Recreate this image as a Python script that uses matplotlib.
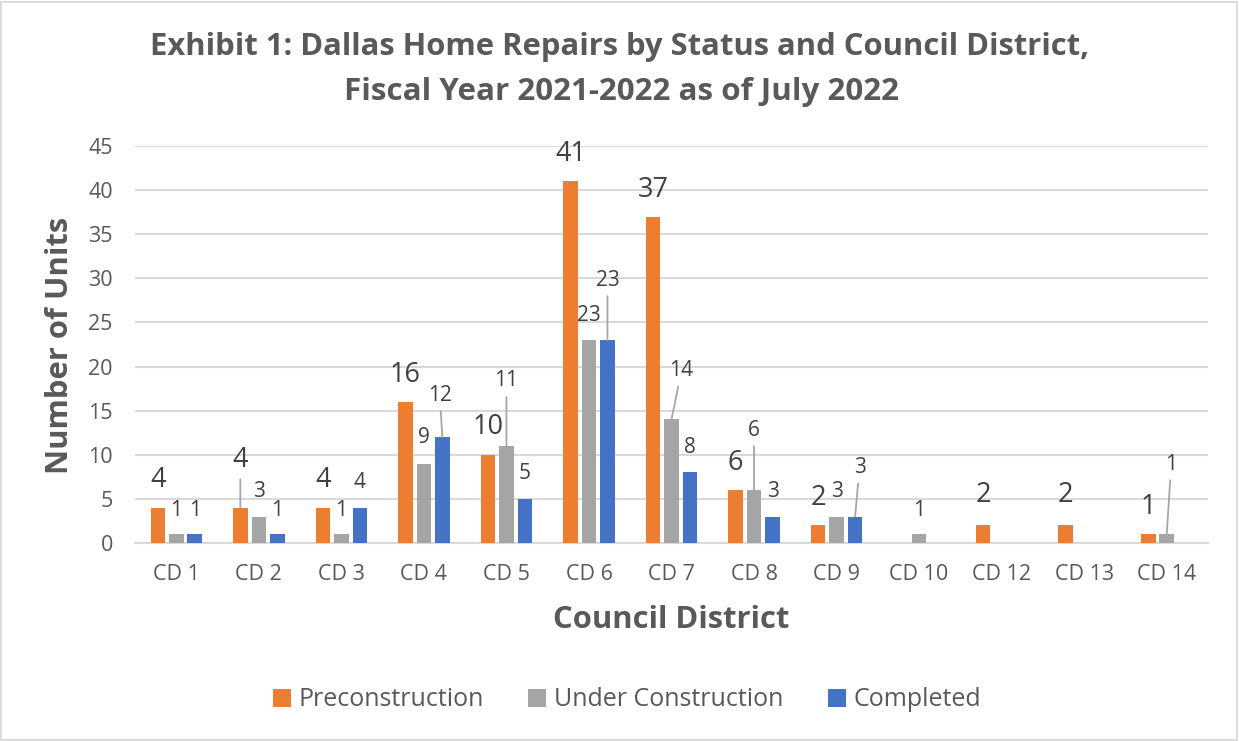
import matplotlib
matplotlib.use("Agg")
import matplotlib.pyplot as plt
import numpy as np
from matplotlib.patches import Rectangle

plt.rcParams['font.family'] = ['Open Sans', 'DejaVu Sans']

categories = ['CD 1', 'CD 2', 'CD 3', 'CD 4', 'CD 5', 'CD 6', 'CD 7',
              'CD 8', 'CD 9', 'CD 10', 'CD 12', 'CD 13', 'CD 14']
preconstruction = [4, 4, 4, 16, 10, 41, 37, 6, 2, 0, 2, 2, 1]
under_construction = [1, 3, 1, 9, 11, 23, 14, 6, 3, 1, 0, 0, 1]
completed = [1, 1, 4, 12, 5, 23, 8, 3, 3, 0, 0, 0, 0]
series_names = ['Preconstruction', 'Under Construction', 'Completed']
yticks = [0, 5, 10, 15, 20, 25, 30, 35, 40, 45]

# label placement (style): (dx px, dy px up, leader line)
pre_off = [(0, 28, False), (0, 48, True), (0, 28, False), (0, 27, False), (0, 28, False),
           (0, 27, False), (0, 27, False), (0, 27, False), (0, 27, False), None,
           (0, 30, False), (0, 30, False), (0, 27, False)]
und_off = [(0, 24, False), (0, 25, False), (0, 24, False), (0, 26, False), (0, 65, True),
           (0, 25, False), (10, 49, True), (0, 60, True), (0, 25, False), (0, 24, False),
           None, None, (4.5, 70, True)]
com_off = [(0, 24, False), (0, 24, False), (0, 25, False), (-2.6, 42, True), (0, 25, False),
           (0, 60, True), (0, 25, False), (0, 25, False), (4.5, 49, True), None,
           None, None, None]

colors = ['#ED7D31', '#A5A5A5', '#4472C4']
text_col = '#595959'
label_col = '#404040'
grid_col = '#D9D9D9'

W, H = 1239, 741
fig = plt.figure(figsize=(W / 100, H / 100), dpi=100)
ax = fig.add_axes([135 / W, (H - 543) / H, 1073 / W, 397 / H])

x = np.arange(len(categories))
bw = 0.176
step = 0.224
all_series = [preconstruction, under_construction, completed]
all_offs = [pre_off, und_off, com_off]
bars = []
for k, (vals, col) in enumerate(zip(all_series, colors)):
    b = ax.bar(x + (k - 1) * step, vals, width=bw, color=col, label=series_names[k], zorder=3)
    bars.append(b)

for k, (vals, offs) in enumerate(zip(all_series, all_offs)):
    fs = 19.5 if k == 0 else 15
    for i, v in enumerate(vals):
        if v == 0 or offs[i] is None:
            continue
        dx, dy, leader = offs[i]
        xp = x[i] + (k - 1) * step
        kw = {}
        if leader:
            kw['arrowprops'] = dict(arrowstyle='-', color='#A6A6A6', lw=1.3,
                                    shrinkA=2, shrinkB=0)
        ax.annotate(str(v), xy=(xp, v), xytext=(dx, dy), textcoords='offset pixels',
                    ha='center', va='center', fontsize=fs, color=label_col, zorder=5, **kw)

ax.set_xlim(-0.5, len(categories) - 0.5)
ax.set_ylim(0, 45)
ax.set_yticks(yticks)
ax.set_xticks(x)
ax.set_xticklabels(categories)
ax.tick_params(axis='both', length=0, labelsize=15.5, labelcolor=text_col)
ax.tick_params(axis='x', pad=15)
ax.tick_params(axis='y', pad=16)
ax.grid(axis='y', color=grid_col, lw=1.5, zorder=0)
for s in ['top', 'right', 'left']:
    ax.spines[s].set_visible(False)
ax.spines['bottom'].set_color(grid_col)
ax.spines['bottom'].set_linewidth(1.5)
ax.set_axisbelow(True)

fig.text(620 / W, 1 - 47 / H, 'Exhibit 1: Dallas Home Repairs by Status and Council District,',
         ha='center', va='center', fontsize=22.3, fontweight='bold', color=text_col)
fig.text(622 / W, 1 - 92 / H, 'Fiscal Year 2021-2022 as of July 2022',
         ha='center', va='center', fontsize=22.6, fontweight='bold', color=text_col)
fig.text(60 / W, 1 - 345 / H, 'Number of Units', rotation=90, ha='center', va='center',
         fontsize=22.3, fontweight='bold', color=text_col)
fig.text(671.5 / W, 1 - 620 / H, 'Council District', ha='center', va='center',
         fontsize=22.3, fontweight='bold', color=text_col)

leg = fig.legend(handles=bars, labels=series_names, loc='center', ncol=3,
                 bbox_to_anchor=(627 / W, 1 - 700 / H), frameon=False,
                 fontsize=18, handlelength=0.72, handleheight=0.72,
                 handletextpad=0.3, columnspacing=1.8)
for t in leg.get_texts():
    t.set_color(text_col)

fig.patches.append(Rectangle((1 / W, 1 / H), (W - 3) / W, (H - 3) / H,
                             transform=fig.transFigure, fill=False,
                             edgecolor='#D9D9D9', lw=1.3))

fig.savefig('out.png', dpi=100, facecolor='white')
